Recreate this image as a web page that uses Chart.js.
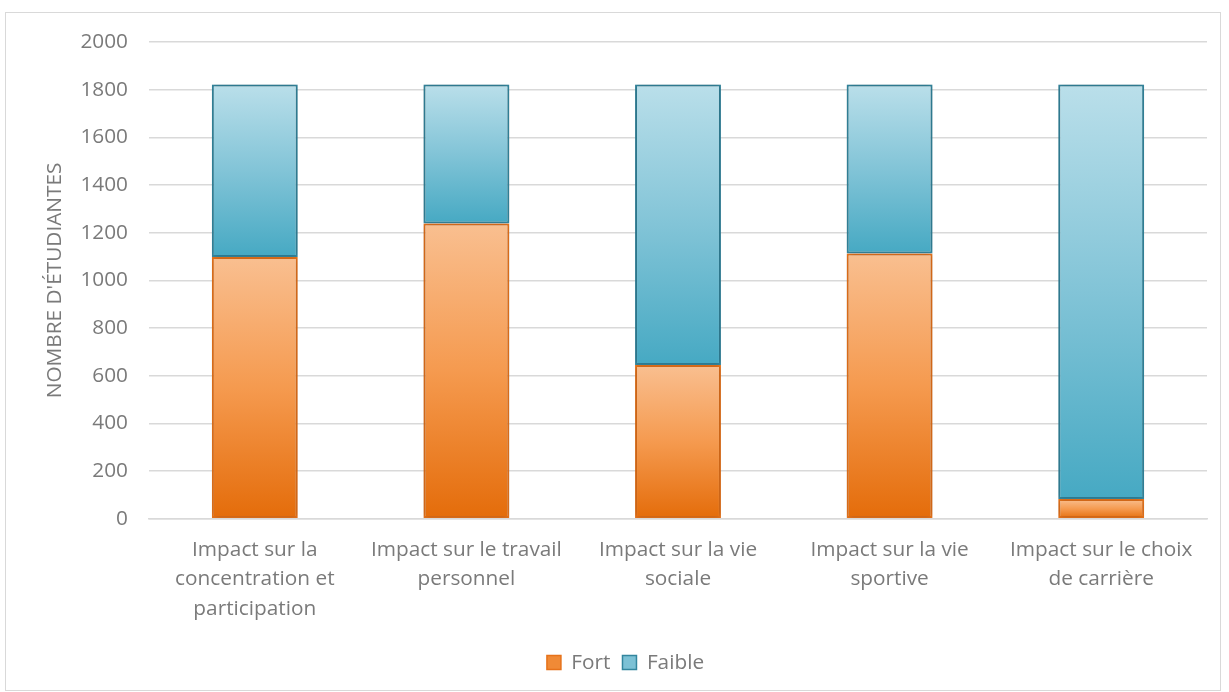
<!DOCTYPE html>
<html>
<head>
<meta charset="utf-8">
<script src="https://cdn.jsdelivr.net/npm/chart.js@4.4.0/dist/chart.umd.min.js"></script>
<style>
  html, body { margin: 0; padding: 0; background: #ffffff; }
  #wrap { width: 1229px; height: 692px; position: relative; }
</style>
</head>
<body>
<div id="wrap"><canvas id="c"></canvas></div>
<script>
// ---- Data ----
const categories = [
  ["Impact sur la", "concentration et", "participation"],
  ["Impact sur le travail", "personnel"],
  ["Impact sur la vie", "sociale"],
  ["Impact sur la vie", "sportive"],
  ["Impact sur le choix", "de carrière"]
];
const seriesNames = ["Fort", "Faible"];
const fortValues = [1098, 1239, 645, 1113, 83];
const faibleValues = [724, 583, 1177, 709, 1739];
const yMin = 0;
const yMax = 2000;
const yStep = 200;
const yTitle = "NOMBRE D'ÉTUDIANTES";

// ---- Styles ----
const FONT = "'Open Sans', 'DejaVu Sans', sans-serif";
const FS = 20.8;
const TEXT = '#7a7a7a';
const orangeStops = ['#F9BF90', '#F59A4F', '#E46C0A'];
const blueStops = ['#BADFEA', '#82C4D7', '#46A9C3'];
const orangeBorder = '#E6721A';
const blueBorder = '#33869E';

function gradFor(stops, dsIndex) {
  return function (ctx) {
    const chart = ctx.chart;
    const area = chart.chartArea;
    if (!area || ctx.dataIndex === undefined) return stops[1];
    const ys = chart.scales.y;
    let base = 0;
    for (let d = 0; d < dsIndex; d++) base += chart.data.datasets[d].data[ctx.dataIndex];
    const v = chart.data.datasets[dsIndex].data[ctx.dataIndex];
    const top = ys.getPixelForValue(base + v);
    const bot = ys.getPixelForValue(base);
    if (!isFinite(top) || !isFinite(bot) || top === bot) return stops[1];
    const g = chart.ctx.createLinearGradient(0, top, 0, bot);
    g.addColorStop(0, stops[0]);
    g.addColorStop(0.5, stops[1]);
    g.addColorStop(1, stops[2]);
    return g;
  };
}

const frame = {
  id: 'frame',
  beforeDraw(chart) {
    const c = chart.ctx;
    c.save();
    c.fillStyle = '#ffffff';
    c.fillRect(0, 0, chart.width, chart.height);
    c.strokeStyle = '#d9d9d9';
    c.lineWidth = 1;
    c.strokeRect(5.5, 12.5, 1215, 678);
    c.restore();
  }
};

const shadow = {
  id: 'shadow',
  beforeDatasetsDraw(chart) {
    const c = chart.ctx;
    c.save();
    c.shadowColor = 'rgba(0,0,0,0.28)';
    c.shadowBlur = 5;
    c.shadowOffsetX = 0;
    c.shadowOffsetY = 0;
  },
  afterDatasetsDraw(chart) {
    chart.ctx.restore();
  }
};

const legendShift = {
  id: 'legendShift',
  afterLayout(chart) {
    const lg = chart.legend;
    if (lg) { lg.left += 18; lg.right += 18; }
  }
};

const legendFill = ['#F08A36', '#7CC1D5'];
const legendStroke = [orangeBorder, blueBorder];

new Chart(document.getElementById('c'), {
  type: 'bar',
  data: {
    labels: categories,
    datasets: [
      {
        label: seriesNames[0],
        data: fortValues,
        backgroundColor: gradFor(orangeStops, 0),
        borderColor: orangeBorder,
        borderWidth: 2,
        borderSkipped: false,
        barPercentage: 0.406,
        categoryPercentage: 1
      },
      {
        label: seriesNames[1],
        data: faibleValues,
        backgroundColor: gradFor(blueStops, 1),
        borderColor: blueBorder,
        borderWidth: 2,
        borderSkipped: false,
        barPercentage: 0.406,
        categoryPercentage: 1
      }
    ]
  },
  options: {
    responsive: true,
    maintainAspectRatio: false,
    animation: false,
    layout: { padding: { left: 8, right: 22, top: 42, bottom: 9 } },
    plugins: {
      tooltip: { enabled: false },
      legend: {
        position: 'bottom',
        labels: {
          font: { family: FONT, size: FS },
          color: TEXT,
          boxWidth: 14,
          boxHeight: 14,
          padding: 12,
          generateLabels: (chart) => chart.data.datasets.map((ds, i) => ({
            text: ds.label,
            fillStyle: legendFill[i],
            strokeStyle: legendStroke[i],
            lineWidth: 1.5,
            hidden: false,
            datasetIndex: i,
            fontColor: TEXT
          }))
        }
      }
    },
    scales: {
      x: {
        stacked: true,
        grid: { display: false, drawTicks: false },
        border: { display: true, color: '#d9d9d9', width: 1.5 },
        ticks: {
          font: { family: FONT, size: FS, lineHeight: 1.4 },
          color: TEXT,
          padding: 17,
          maxRotation: 0,
          autoSkip: false
        }
      },
      y: {
        stacked: true,
        min: yMin,
        max: yMax,
        afterFit: (s) => { s.width = 141; },
        grid: { color: '#d9d9d9', lineWidth: 1.5, drawTicks: false },
        border: { display: false },
        ticks: {
          stepSize: yStep,
          font: { family: FONT, size: FS },
          color: TEXT,
          padding: 21,
          callback: (v) => String(v)
        },
        title: {
          display: true,
          text: yTitle,
          font: { family: FONT, size: FS },
          color: TEXT,
          padding: { top: 35, bottom: 0 }
        }
      }
    }
  },
  plugins: [frame, shadow, legendShift]
});
</script>
</body>
</html>
